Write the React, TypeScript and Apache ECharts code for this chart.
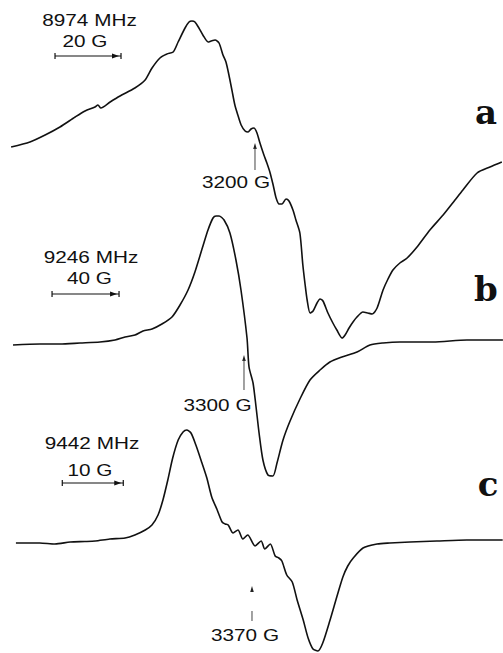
import React, { useEffect, useRef } from "react";
import * as echarts from "echarts";

// Spectrum a (8974 MHz): magnetic field (G) and first-derivative signal (arb. units)
const FIELD_A = [3126.1, 3131.8, 3136.4, 3140.9, 3145.5, 3148.5, 3151.5, 3152.4, 3153.3, 3156.1, 3159.1, 3163.6, 3166.7, 3168.8, 3171.2, 3173.3, 3175.2, 3176.7, 3178.8, 3180.0, 3180.9, 3181.8, 3183.0, 3184.2, 3185.8, 3186.7, 3187.9, 3189.1, 3190.3, 3191.2, 3192.1, 3193.0, 3193.9, 3194.8, 3195.8, 3197.0, 3197.9, 3198.8, 3199.7, 3200.6, 3201.5, 3202.7, 3203.6, 3204.5, 3205.5, 3206.4, 3207.3, 3208.2, 3209.4, 3210.3, 3211.5, 3212.4, 3213.6, 3214.5, 3215.2, 3215.8, 3216.7, 3217.6, 3218.8, 3219.7, 3220.6, 3222.1, 3223.6, 3224.8, 3226.4, 3227.3, 3228.5, 3229.7, 3230.9, 3232.7, 3234.2, 3235.5, 3237.0, 3238.8, 3240.3, 3241.8, 3243.9, 3246.1, 3249.1, 3253.0, 3257.0, 3260.6, 3263.0, 3267.3, 3271.2, 3274.8];
const SIGNAL_A = [3, 8, 15, 23, 33, 39, 43, 45, 42, 48, 54, 62, 70, 82, 92, 96, 98, 108, 122, 128, 129, 128, 122, 115, 108, 109, 110, 107, 95, 88, 75, 60, 45, 35, 25, 19, 18, 21, 22, 17, 7, -5, -13, -22, -35, -48, -54, -54, -49, -51, -60, -70, -83, -115, -135, -150, -163, -161, -153, -149, -151, -163, -173, -180, -188, -185, -178, -172, -167, -162, -163, -164, -158, -140, -129, -120, -113, -108, -97, -80, -65, -50, -40, -23, -17, -12];

// Spectrum b (9246 MHz)
const FIELD_B = [3162.1, 3178.2, 3190.1, 3202.1, 3214.0, 3223.0, 3229.0, 3234.9, 3239.7, 3245.1, 3251.0, 3257.0, 3261.8, 3266.6, 3270.7, 3275.5, 3278.5, 3281.5, 3283.3, 3285.1, 3288.1, 3291.6, 3295.2, 3298.2, 3301.8, 3303.0, 3305.4, 3307.2, 3309.0, 3311.3, 3314.3, 3317.3, 3319.7, 3323.3, 3327.5, 3333.4, 3339.4, 3345.4, 3351.3, 3358.5, 3367.5, 3375.2, 3383.0, 3393.1, 3412.8, 3433.1, 3454.6];
const SIGNAL_B = [-1, 0, 0, 1, 2, 4, 7, 9, 13, 15, 20, 27, 39, 54, 72, 98, 114, 126, 128, 128, 124, 111, 84, 54, 6, -23, -39, -63, -89, -116, -131, -132, -119, -96, -77, -55, -36, -26, -18, -13, -8, -1, 1, 2, 2, 4, 4];

// Spectrum c (9442 MHz)
const FIELD_C = [3331.3, 3335.2, 3337.7, 3340.2, 3342.6, 3344.3, 3346.7, 3349.2, 3350.8, 3352.5, 3353.6, 3354.6, 3355.4, 3356.2, 3357.0, 3357.9, 3358.7, 3359.3, 3360.0, 3360.8, 3361.8, 3362.6, 3363.4, 3364.3, 3365.1, 3365.6, 3366.1, 3366.9, 3367.7, 3368.5, 3369.3, 3370.5, 3371.5, 3372.1, 3373.0, 3373.8, 3374.4, 3374.9, 3375.7, 3376.6, 3377.4, 3378.4, 3379.2, 3380.0, 3380.8, 3381.6, 3382.8, 3383.9, 3384.9, 3385.7, 3386.6, 3388.2, 3390.5, 3392.6, 3395.9, 3400.3, 3405.2, 3411.1];
const SIGNAL_C = [0, 0, -1, 1, 1.5, 2, 4, 5, 8, 13, 18, 28, 43, 63, 85, 103, 111, 113, 110, 98, 80, 65, 46, 33, 21, 19, 18, 10, 13, 4, 8, -3, 2, -6, -1, -13, -15, -18, -32, -39, -57, -77, -95, -106, -108, -100, -77, -54, -34, -23, -15, -5, -1, 0, 1, 2, 3, 3];

const PANEL_LABELS = ["a", "b", "c"];
const FREQ_LABELS = ["8974 MHz", "9246 MHz", "9442 MHz"];
const SCALE_LABELS = ["20 G", "40 G", "10 G"];
const SCALE_GAUSS = [20, 40, 10];
const SCALE_START = [3139.4, 3185.4, 3338.9];
const MARK_GAUSS = [3200, 3300, 3370];
const MARK_LABELS = ["3200 G", "3300 G", "3370 G"];

// Layout (pixels)
const X_RANGES = [
  [3122.73, 3275.15],
  [3154.33, 3454.63],
  [3328.69, 3411.15],
];
const BASELINES = [150, 344, 543];
const H = 653;
const FREQ_POS = [[89.5, 12], [91, 249], [92, 435]];
const SCALE_LABEL_POS = [[85, 33], [89.5, 270], [90, 462]];
const BAR_Y = [56, 294, 483];
const MARK_ARROW = [[143, 170], [355, 390], [586, 621]];
const MARK_LABEL_POS = [[236, 174], [217.5, 397], [245, 627]];
const PANEL_POS = [[486, 112], [486, 289], [488, 484]];

export default function App() {
  const ref = useRef<HTMLDivElement>(null);
  useEffect(() => {
    if (!ref.current) return;
    const chart = echarts.init(ref.current, null, { renderer: "svg" });
    const fields = [FIELD_A, FIELD_B, FIELD_C];
    const signals = [SIGNAL_A, SIGNAL_B, SIGNAL_C];
    chart.setOption({
      animation: false,
      backgroundColor: "#ffffff",
      grid: [0, 1, 2].map(() => ({ left: 0, right: 0, top: 0, bottom: 0, containLabel: false })),
      xAxis: X_RANGES.map((r, i) => ({ type: "value", gridIndex: i, min: r[0], max: r[1], show: false })),
      yAxis: BASELINES.map((b, i) => ({ type: "value", gridIndex: i, min: b - H, max: b, show: false })),
      series: fields.map((f, i) => ({
        type: "line",
        xAxisIndex: i,
        yAxisIndex: i,
        data: f.map((x, k) => [x, signals[i][k]]),
        showSymbol: false,
        smooth: 0.25,
        lineStyle: { color: "#111", width: 1.6 },
        silent: true,
      })),
    });

    const txt = (x: number, y: number, text: string) => ({
      type: "text",
      x,
      y,
      scaleX: 1.22,
      silent: true,
      style: {
        text,
        x: 0,
        y: 0,
        fill: "#111",
        font: "17px 'Liberation Sans', Arial, sans-serif",
        textAlign: "center",
        textVerticalAlign: "top",
      },
    });
    const graphic: any[] = [];
    for (let i = 0; i < 3; i++) {
      const toPx = (v: number) => chart.convertToPixel({ xAxisIndex: i } as any, v) as unknown as number;
      const x0 = toPx(SCALE_START[i]);
      const x1 = toPx(SCALE_START[i] + SCALE_GAUSS[i]);
      const by = BAR_Y[i];
      const ls = { stroke: "#111", lineWidth: 1.2 };
      graphic.push({ type: "line", shape: { x1: x0, y1: by, x2: x1, y2: by }, style: ls, silent: true });
      graphic.push({ type: "line", shape: { x1: x0, y1: by - 3, x2: x0, y2: by + 3 }, style: ls, silent: true });
      graphic.push({ type: "line", shape: { x1: x1, y1: by - 3, x2: x1, y2: by + 3 }, style: ls, silent: true });
      graphic.push({
        type: "polygon",
        shape: { points: [[x1 - 2, by], [x1 - 9, by - 2.5], [x1 - 9, by + 2.5]] },
        style: { fill: "#111" },
        silent: true,
      });
      graphic.push(txt(FREQ_POS[i][0], FREQ_POS[i][1], FREQ_LABELS[i]));
      graphic.push(txt(SCALE_LABEL_POS[i][0], SCALE_LABEL_POS[i][1], SCALE_LABELS[i]));
      graphic.push(txt(MARK_LABEL_POS[i][0], MARK_LABEL_POS[i][1], MARK_LABELS[i]));

      const mx = toPx(MARK_GAUSS[i]);
      const [top, bottom] = MARK_ARROW[i];
      graphic.push({
        type: "polygon",
        shape: { points: [[mx, top], [mx - 1.8, top + 6], [mx + 1.8, top + 6]] },
        style: { fill: "#222" },
        silent: true,
      });
      if (i < 2) {
        graphic.push({ type: "line", shape: { x1: mx, y1: top + 5, x2: mx, y2: bottom }, style: { stroke: "#444", lineWidth: 1 }, silent: true });
      } else {
        graphic.push({ type: "line", shape: { x1: mx, y1: top + 25, x2: mx, y2: bottom }, style: { stroke: "#444", lineWidth: 1 }, silent: true });
      }

      graphic.push({
        type: "text",
        x: PANEL_POS[i][0],
        y: PANEL_POS[i][1],
        silent: true,
        style: {
          text: PANEL_LABELS[i],
          x: 0,
          y: 0,
          fill: "#111",
          font: "bold 34px 'DejaVu Serif', serif",
          textAlign: "center",
          textVerticalAlign: "middle",
        },
      });
    }
    chart.setOption({ graphic });
    return () => chart.dispose();
  }, []);
  return (
    <div
      ref={ref}
      style={{ position: "fixed", left: 0, top: 0, width: 503, height: 653, background: "#fff" }}
    />
  );
}
